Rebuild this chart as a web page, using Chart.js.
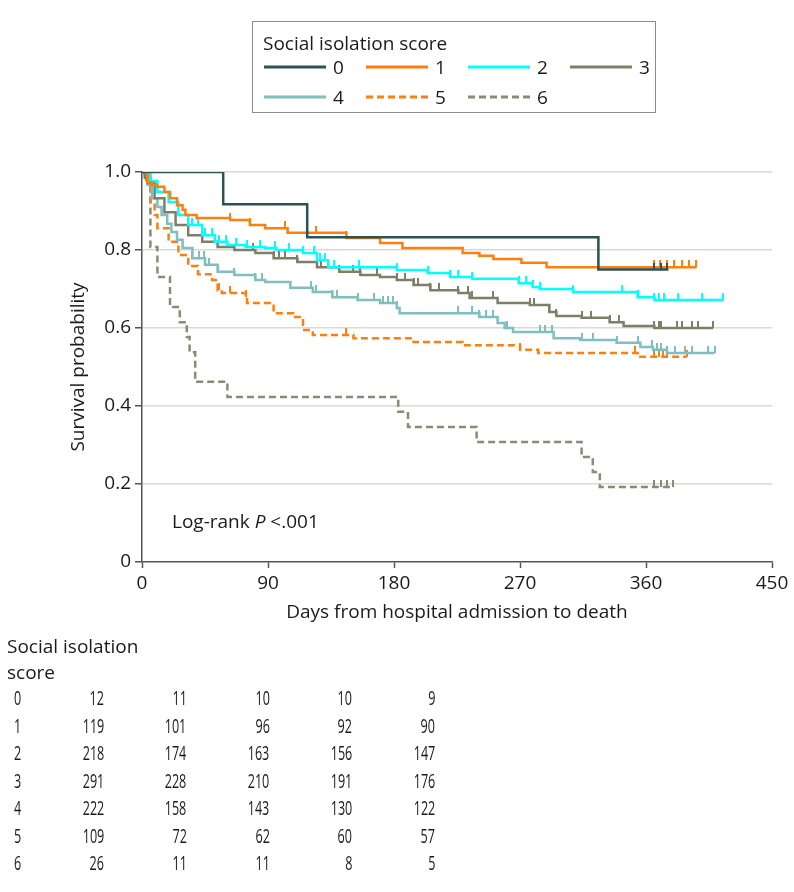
<!DOCTYPE html>
<html>
<head>
<meta charset="utf-8">
<script src="https://cdn.jsdelivr.net/npm/chart.js@4.4.0/dist/chart.umd.min.js"></script>
<style>
  body { margin: 0; background: #fff; font-family: "Open Sans", sans-serif; color: #1a1a1a; }
  #wrap { position: relative; width: 794px; height: 892px; overflow: hidden; }
  #km { position: absolute; left: 0; top: 0; }
  .t { position: absolute; font-size: 19px; line-height: 24px; height: 24px; white-space: nowrap; }
  #legend { position: absolute; left: 252px; top: 21px; width: 402px; height: 90px; border: 1.5px solid #8c8c8c; }
  .num { position: absolute; font-size: 20px; line-height: 24px; height: 24px; white-space: nowrap; transform: scaleX(0.63); transform-origin: right center; text-align: right; }
  .rowlab { position: absolute; font-size: 20px; line-height: 24px; height: 24px; transform: scaleX(0.63); transform-origin: left center; }
</style>
</head>
<body>
<div id="wrap">
  <canvas id="km" width="794" height="892"></canvas>
  <div id="legend"></div>
  <div class="t" style="left:172px; top:509px;">Log-rank <i>P</i> &lt;.001</div>
  <div id="table"></div>
</div>
<script>
// survival curves: day of each step and survival after the step (last entry = end of follow-up)
const days0 = [0, 58, 118, 326, 376];
const surv0 = [1, 0.917, 0.833, 0.75, 0.75];
const cens0 = [366, 371, 375];

const days1 = [0, 4, 7, 11, 16, 20, 25, 29, 31, 39, 63, 77, 88, 104, 146, 170, 186, 229, 241, 251, 271, 289, 396];
const surv1 = [1, 0.974, 0.967, 0.962, 0.949, 0.933, 0.915, 0.903, 0.89, 0.882, 0.877, 0.864, 0.856, 0.844, 0.831, 0.818, 0.805, 0.792, 0.785, 0.777, 0.767, 0.756, 0.756];
const cens1 = [63, 77, 102, 124, 146, 366, 370, 375, 380, 386, 391, 396];

const days2 = [0, 6, 11, 19, 26, 33, 43, 52, 61, 74, 88, 96, 115, 125, 133, 182, 204, 220, 236, 269, 279, 284, 308, 354, 366, 415];
const surv2 = [1, 0.977, 0.949, 0.923, 0.89, 0.864, 0.838, 0.821, 0.813, 0.808, 0.805, 0.8, 0.792, 0.774, 0.756, 0.749, 0.741, 0.731, 0.726, 0.715, 0.705, 0.7, 0.692, 0.679, 0.672, 0.672];
const cens2 = [36, 40, 45, 50, 55, 60, 67, 75, 84, 95, 105, 115, 123, 127, 131, 137, 155, 182, 204, 220, 226, 236, 269, 274, 279, 284, 308, 343, 354, 366, 369, 373, 383, 400, 415];

const days3 = [0, 2, 4, 9, 16, 24, 33, 43, 54, 66, 81, 94, 111, 125, 141, 156, 170, 182, 194, 206, 226, 234, 254, 277, 291, 296, 314, 334, 344, 366, 408];
const surv3 = [1, 0.985, 0.972, 0.933, 0.897, 0.864, 0.838, 0.821, 0.808, 0.8, 0.792, 0.779, 0.769, 0.756, 0.744, 0.736, 0.731, 0.723, 0.71, 0.697, 0.69, 0.677, 0.664, 0.659, 0.641, 0.631, 0.626, 0.615, 0.605, 0.6, 0.6];
const cens3 = [79, 94, 98, 102, 111, 125, 128, 141, 151, 156, 168, 182, 188, 194, 197, 206, 212, 226, 233, 236, 251, 277, 280, 291, 296, 314, 321, 334, 341, 366, 369, 371, 382, 386, 393, 397, 408];

const days4 = [0, 2, 4, 7, 11, 14, 18, 21, 25, 29, 36, 45, 54, 66, 81, 88, 106, 122, 136, 154, 170, 182, 184, 241, 254, 259, 265, 294, 313, 339, 356, 365, 375, 409];
const surv4 = [1, 0.992, 0.967, 0.933, 0.91, 0.89, 0.867, 0.846, 0.826, 0.805, 0.779, 0.762, 0.744, 0.736, 0.723, 0.718, 0.703, 0.692, 0.679, 0.672, 0.664, 0.651, 0.638, 0.628, 0.613, 0.6, 0.59, 0.574, 0.569, 0.562, 0.551, 0.544, 0.536, 0.536];
const cens4 = [36, 41, 44, 48, 54, 66, 81, 86, 106, 121, 124, 136, 139, 154, 166, 172, 176, 179, 182, 226, 236, 241, 246, 251, 261, 284, 288, 293, 314, 322, 339, 354, 364, 368, 371, 375, 381, 388, 393, 404, 409];

const days5 = [0, 2, 6, 9, 11, 19, 26, 33, 40, 50, 54, 57, 74, 75, 94, 108, 115, 122, 151, 194, 229, 270, 283, 354, 389];
const surv5 = [1, 0.979, 0.923, 0.89, 0.856, 0.821, 0.787, 0.759, 0.738, 0.723, 0.697, 0.69, 0.679, 0.664, 0.638, 0.628, 0.595, 0.582, 0.574, 0.564, 0.556, 0.544, 0.536, 0.526, 0.526];
const cens5 = [55, 63, 74, 146, 270, 352, 366, 369, 372, 375, 389];

const days6 = [0, 6, 11, 20, 27, 32, 34, 38, 61, 183, 190, 239, 314, 322, 327, 379];
const surv6 = [1, 0.808, 0.731, 0.654, 0.615, 0.577, 0.538, 0.462, 0.423, 0.385, 0.346, 0.308, 0.269, 0.231, 0.192, 0.192];
const cens6 = [366, 371, 375, 379];

const groups = ["0", "1", "2", "3", "4", "5", "6"];
const xTicks = [0, 90, 180, 270, 360, 450];
const yTicks = [0, 0.2, 0.4, 0.6, 0.8, 1.0];

// numbers at risk
const risk0 = [12, 11, 10, 10, 9];
const risk1 = [119, 101, 96, 92, 90];
const risk2 = [218, 174, 163, 156, 147];
const risk3 = [291, 228, 210, 191, 176];
const risk4 = [222, 158, 143, 130, 122];
const risk5 = [109, 72, 62, 60, 57];
const risk6 = [26, 11, 11, 8, 5];

const colors = ["#2d5252", "#ff7f0e", "#00ffff", "#7f7f68", "#7fbfbf", "#ff7f0e", "#8a8a76"];
const dashes = [[], [], [], [], [], [7, 4], [7, 4]];

const allDays = [days0, days1, days2, days3, days4, days5, days6];
const allSurv = [surv0, surv1, surv2, surv3, surv4, surv5, surv6];
const allCens = [cens0, cens1, cens2, cens3, cens4, cens5, cens6];
const allRisk = [risk0, risk1, risk2, risk3, risk4, risk5, risk6];

function survAt(d, s, t) {
  let v = s[0];
  for (let i = 0; i < d.length; i++) {
    if (d[i] <= t) v = s[i];
  }
  return v;
}

function tickImg(color) {
  const c = document.createElement("canvas");
  c.width = 2;
  c.height = 14;
  const g = c.getContext("2d");
  g.fillStyle = color;
  g.fillRect(0, 0, 2, 7);
  return c;
}

const datasets = [];
groups.forEach((g, i) => {
  datasets.push({
    label: g,
    data: allDays[i].map((d, k) => ({ x: d, y: allSurv[i][k] })),
    borderColor: colors[i],
    borderWidth: 2.5,
    borderDash: dashes[i],
    stepped: true,
    pointRadius: 0,
    fill: false,
  });
  datasets.push({
    label: g + " censored",
    data: allCens[i].map((d) => ({ x: d, y: survAt(allDays[i], allSurv[i], d) })),
    showLine: false,
    pointStyle: tickImg(colors[i]),
    pointRadius: 3,
    borderColor: colors[i],
    backgroundColor: colors[i],
  });
});

Chart.defaults.font.family = "'Open Sans', sans-serif";
Chart.defaults.font.size = 19;
Chart.defaults.color = "#1a1a1a";

new Chart(document.getElementById("km"), {
  type: "line",
  data: { datasets: datasets },
  options: {
    responsive: false,
    animation: false,
    events: [],
    layout: { padding: { left: 0, top: 172, right: 22, bottom: 260 } },
    plugins: { legend: { display: false }, tooltip: { enabled: false } },
    scales: {
      x: {
        type: "linear",
        min: 0,
        max: 450,
        afterBuildTicks: (scale) => { scale.ticks = xTicks.map((v) => ({ value: v })); },
        afterFit: (scale) => { scale.height = 70; },
        ticks: { padding: 4, maxRotation: 0, autoSkip: false },
        grid: { drawOnChartArea: false, drawTicks: true, tickLength: 6, tickColor: "#555", tickWidth: 1.5 },
        border: { color: "#555", width: 1.5 },
        title: { display: true, text: "Days from hospital admission to death", padding: { top: 0, bottom: 8 } },
      },
      y: {
        min: 0,
        max: 1,
        afterBuildTicks: (scale) => { scale.ticks = yTicks.map((v) => ({ value: v })); },
        afterFit: (scale) => { scale.width = 142; },
        ticks: {
          padding: 4,
          autoSkip: false,
          callback: (v) => (v === 0 ? "0" : v.toFixed(1)),
        },
        grid: {
          color: (ctx) => (ctx.tick && ctx.tick.value === 0 ? "rgba(0,0,0,0)" : "#d9d9d9"),
          lineWidth: 1.5,
          tickLength: 7,
          tickColor: "#555",
          tickWidth: 1.5,
        },
        border: { color: "#555", width: 1.5 },
        title: { display: true, text: "Survival probability", padding: { top: 67, bottom: 0 } },
      },
    },
  },
});

// legend box
const leg = document.getElementById("legend");
const legTitle = document.createElement("div");
legTitle.className = "t";
legTitle.style.left = "10px";
legTitle.style.top = "9px";
legTitle.textContent = "Social isolation score";
leg.appendChild(legTitle);
groups.forEach((g, i) => {
  const col = i % 4, row = Math.floor(i / 4);
  const x0 = 11 + col * 102, yc = 44.5 + row * 30;
  const svg = document.createElementNS("http://www.w3.org/2000/svg", "svg");
  svg.setAttribute("width", "64");
  svg.setAttribute("height", "6");
  svg.style.position = "absolute";
  svg.style.left = x0 + "px";
  svg.style.top = (yc - 3) + "px";
  const ln = document.createElementNS("http://www.w3.org/2000/svg", "line");
  ln.setAttribute("x1", "0"); ln.setAttribute("x2", "62");
  ln.setAttribute("y1", "3"); ln.setAttribute("y2", "3");
  ln.setAttribute("stroke", colors[i]);
  ln.setAttribute("stroke-width", "3");
  if (dashes[i].length) ln.setAttribute("stroke-dasharray", dashes[i].join(" "));
  svg.appendChild(ln);
  leg.appendChild(svg);
  const lab = document.createElement("div");
  lab.className = "t";
  lab.style.left = (x0 + 69) + "px";
  lab.style.top = (yc - 12) + "px";
  lab.textContent = g;
  leg.appendChild(lab);
});

// numbers-at-risk table
const tbl = document.getElementById("table");
function addText(cls, text, left, top, style) {
  const d = document.createElement("div");
  d.className = cls;
  d.textContent = text;
  d.style.top = top + "px";
  if (left !== null) d.style.left = left + "px";
  if (style) Object.assign(d.style, style);
  tbl.appendChild(d);
  return d;
}
addText("t", "Social isolation", 7, 634);
addText("t", "score", 7, 660);
groups.forEach((g, r) => {
  const yc = 698 + r * 27.5;
  addText("rowlab", g, 14, yc - 12);
  allRisk[r].forEach((n, c) => {
    const right = 104 + c * 82.75;
    addText("num", String(n), null, yc - 12, { right: (794 - right) + "px" });
  });
});
</script>
</body>
</html>
